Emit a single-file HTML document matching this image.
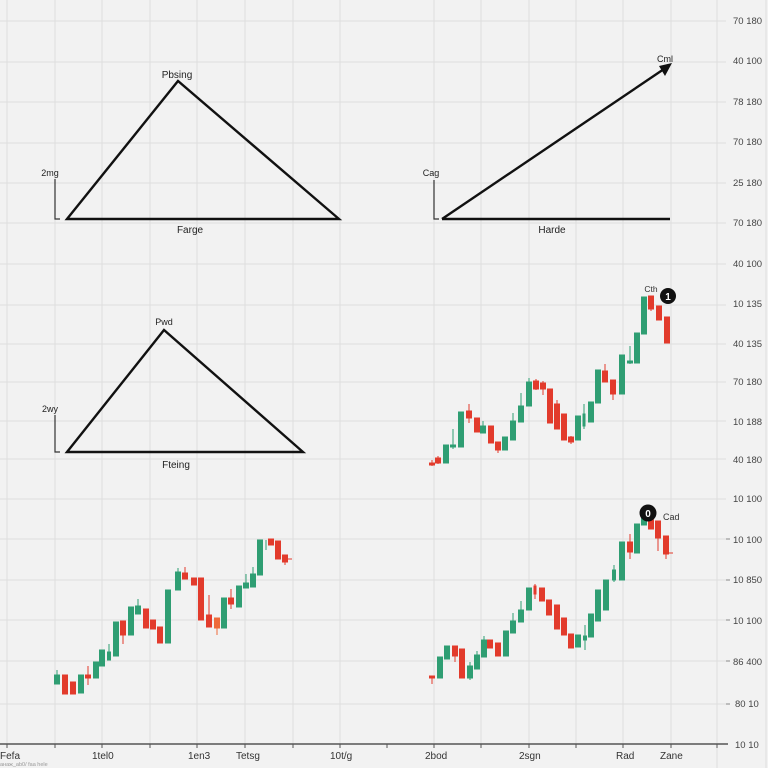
<!DOCTYPE html>
<html><head><meta charset="utf-8"><style>
html,body{margin:0;padding:0;background:#f2f2f2;}
svg{display:block;}
text{font-family:"Liberation Sans",sans-serif;}
</style></head><body>
<svg width="768" height="768" viewBox="0 0 768 768" xmlns="http://www.w3.org/2000/svg">
<rect width="768" height="768" fill="#f2f2f2"/>
<g stroke="#dedede" stroke-width="1">
<line x1="7" y1="0" x2="7" y2="744"/><line x1="55" y1="0" x2="55" y2="744"/><line x1="102" y1="0" x2="102" y2="744"/><line x1="150" y1="0" x2="150" y2="744"/><line x1="197" y1="0" x2="197" y2="744"/><line x1="245" y1="0" x2="245" y2="744"/><line x1="293" y1="0" x2="293" y2="744"/><line x1="340" y1="0" x2="340" y2="744"/><line x1="434" y1="0" x2="434" y2="744"/><line x1="481" y1="0" x2="481" y2="744"/><line x1="529" y1="0" x2="529" y2="744"/><line x1="576" y1="0" x2="576" y2="744"/><line x1="623" y1="0" x2="623" y2="744"/><line x1="671" y1="0" x2="671" y2="744"/><line x1="717" y1="0" x2="717" y2="768"/><line x1="766" y1="0" x2="766" y2="768"/>
<line x1="0" y1="21" x2="726" y2="21"/><line x1="0" y1="62" x2="726" y2="62"/><line x1="0" y1="102" x2="726" y2="102"/><line x1="0" y1="143" x2="726" y2="143"/><line x1="0" y1="183" x2="726" y2="183"/><line x1="0" y1="223" x2="726" y2="223"/><line x1="0" y1="264" x2="726" y2="264"/><line x1="0" y1="305" x2="726" y2="305"/><line x1="0" y1="344" x2="726" y2="344"/><line x1="0" y1="382" x2="726" y2="382"/><line x1="0" y1="421" x2="726" y2="421"/><line x1="0" y1="459" x2="726" y2="459"/><line x1="0" y1="499" x2="726" y2="499"/><line x1="0" y1="539" x2="726" y2="539"/><line x1="0" y1="580" x2="726" y2="580"/><line x1="0" y1="620" x2="726" y2="620"/><line x1="0" y1="661" x2="726" y2="661"/><line x1="0" y1="704" x2="726" y2="704"/>
</g>
<!-- right axis ticks -->
<g stroke="#888" stroke-width="1">
<line x1="726" y1="539" x2="730" y2="539"/><line x1="726" y1="580" x2="730" y2="580"/><line x1="726" y1="620" x2="730" y2="620"/><line x1="726" y1="661" x2="730" y2="661"/><line x1="726" y1="704" x2="730" y2="704"/>
</g>
<g font-size="9.5" fill="#444">
<text x="733" y="24">70 180</text><text x="733" y="64">40 100</text><text x="733" y="105">78 180</text><text x="733" y="145">70 180</text><text x="733" y="186">25 180</text><text x="733" y="226">70 180</text><text x="733" y="267">40 100</text><text x="733" y="307">10 135</text><text x="733" y="347">40 135</text><text x="733" y="385">70 180</text><text x="733" y="425">10 188</text><text x="733" y="463">40 180</text><text x="733" y="502">10 100</text><text x="733" y="543">10 100</text><text x="733" y="583">10 850</text><text x="733" y="624">10 100</text><text x="733" y="665">86 400</text><text x="735" y="707">80 10</text><text x="735" y="748">10 10</text>
</g>
<!-- bottom axis -->
<line x1="0" y1="744" x2="728" y2="744" stroke="#555" stroke-width="1.6"/>
<g stroke="#555" stroke-width="1">
<line x1="7" y1="744" x2="7" y2="748"/><line x1="55" y1="744" x2="55" y2="748"/><line x1="102" y1="744" x2="102" y2="748"/><line x1="150" y1="744" x2="150" y2="748"/><line x1="197" y1="744" x2="197" y2="748"/><line x1="245" y1="744" x2="245" y2="748"/><line x1="293" y1="744" x2="293" y2="748"/><line x1="340" y1="744" x2="340" y2="748"/><line x1="387" y1="744" x2="387" y2="748"/><line x1="434" y1="744" x2="434" y2="748"/><line x1="481" y1="744" x2="481" y2="748"/><line x1="529" y1="744" x2="529" y2="748"/><line x1="576" y1="744" x2="576" y2="748"/><line x1="623" y1="744" x2="623" y2="748"/><line x1="671" y1="744" x2="671" y2="748"/><line x1="717" y1="744" x2="717" y2="748"/>
</g>
<g font-size="10" fill="#333">
<text x="0" y="759">Fefa</text><text x="92" y="759">1tel0</text><text x="188" y="759">1en3</text><text x="236" y="759">Tetsg</text><text x="330" y="759">10t/g</text><text x="425" y="759">2bod</text><text x="519" y="759">2sgn</text><text x="616" y="759">Rad</text><text x="660" y="759">Zane</text>
</g>
<text x="0" y="766" font-size="5.5" fill="#999">анаж_ab0/ faa hele</text>

<!-- top-left triangle -->
<polygon points="67,219 178,81 339,219" fill="none" stroke="#111" stroke-width="2.4" stroke-linejoin="miter"/>
<polyline points="55,179 55,219 60,219" fill="none" stroke="#333" stroke-width="1.2"/>
<g font-size="10" fill="#222">
<text x="177" y="78" text-anchor="middle">Pbsing</text>
<text x="190" y="233" text-anchor="middle">Farge</text>
<text x="50" y="176" text-anchor="middle" font-size="9">2mg</text>
</g>
<!-- top-right arrow -->
<line x1="442" y1="219" x2="670" y2="219" stroke="#111" stroke-width="2.4"/>
<line x1="442" y1="219" x2="664" y2="69" stroke="#111" stroke-width="2.4"/>
<polygon points="672,63 659,66 665,76" fill="#111"/>
<polyline points="434,180 434,219 439,219" fill="none" stroke="#333" stroke-width="1.2"/>
<g font-size="10" fill="#222">
<text x="665" y="62" text-anchor="middle" font-size="9">Cml</text>
<text x="552" y="233" text-anchor="middle">Harde</text>
<text x="431" y="176" text-anchor="middle" font-size="9">Cag</text>
</g>
<!-- middle-left triangle -->
<polygon points="67,452 164,330 303,452" fill="none" stroke="#111" stroke-width="2.4"/>
<polyline points="55,415 55,452 60,452" fill="none" stroke="#333" stroke-width="1.2"/>
<g font-size="10" fill="#222">
<text x="164" y="325" text-anchor="middle" font-size="9">Pwd</text>
<text x="176" y="468" text-anchor="middle">Fteing</text>
<text x="50" y="412" text-anchor="middle" font-size="9">2wy</text>
</g>

<!-- candles: middle-right -->
<g stroke-width="1">
<g fill="#e23b2c" stroke="#e23b2c">
<line x1="432" y1="460" x2="432" y2="466"/><rect x="429.5" y="463" width="5" height="2"/>
<line x1="438" y1="456" x2="438" y2="464"/><rect x="435.5" y="458" width="5" height="5"/>
<line x1="469" y1="404" x2="469" y2="423"/><rect x="466.5" y="411" width="5" height="7"/>
<rect x="474.5" y="418" width="5" height="14"/>
<rect x="488.5" y="426" width="5" height="17"/>
<line x1="498" y1="442" x2="498" y2="453"/><rect x="495.5" y="442" width="5" height="8"/>
<line x1="536" y1="379" x2="536" y2="390"/><rect x="533.5" y="381" width="5" height="8"/>
<line x1="543" y1="381" x2="543" y2="395"/><rect x="540.5" y="383" width="5" height="6"/>
<rect x="547.5" y="389" width="5" height="34"/>
<line x1="557" y1="400" x2="557" y2="429"/><rect x="554.5" y="404" width="5" height="25"/>
<rect x="561.5" y="414" width="5" height="26"/>
<line x1="571" y1="436" x2="571" y2="444"/><rect x="568.5" y="437" width="5" height="5"/>
<line x1="605" y1="364" x2="605" y2="382"/><rect x="602.5" y="371" width="5" height="11"/>
<line x1="613" y1="380" x2="613" y2="400"/><rect x="610.5" y="380" width="5" height="14"/>
<line x1="651" y1="296" x2="651" y2="311"/><rect x="648.5" y="296" width="5" height="13"/>
<rect x="656.5" y="306" width="5" height="14"/>
<rect x="664.5" y="317" width="5" height="26"/>
</g>
<g fill="#2f9e73" stroke="#2f9e73">
<rect x="443.5" y="445" width="5" height="18"/>
<line x1="453" y1="429" x2="453" y2="449"/><rect x="450.5" y="445" width="5" height="2"/>
<rect x="458.5" y="412" width="5" height="35"/>
<line x1="483" y1="421" x2="483" y2="433"/><rect x="480.5" y="426" width="5" height="7"/>
<rect x="502.5" y="437" width="5" height="13"/>
<line x1="513" y1="413" x2="513" y2="440"/><rect x="510.5" y="421" width="5" height="19"/>
<line x1="521" y1="393" x2="521" y2="422"/><rect x="518.5" y="406" width="5" height="16"/>
<line x1="529" y1="378" x2="529" y2="406"/><rect x="526.5" y="382" width="5" height="24"/>
<rect x="575.5" y="416" width="5" height="24"/>
<line x1="584" y1="404" x2="584" y2="429"/><rect x="583" y="414" width="2" height="12"/>
<rect x="588.5" y="402" width="5" height="20"/>
<rect x="595.5" y="370" width="5" height="33"/>
<rect x="619.5" y="355" width="5" height="39"/>
<line x1="630" y1="346" x2="630" y2="364"/><rect x="627.5" y="361" width="5" height="2"/>
<rect x="634.5" y="333" width="5" height="30"/>
<rect x="641.5" y="297" width="5" height="37"/>
</g>
</g>
<circle cx="668" cy="296" r="8" fill="#111"/>
<text x="668" y="300" font-size="10" fill="#fff" text-anchor="middle" font-weight="bold">1</text>
<text x="651" y="292" font-size="8.5" fill="#333" text-anchor="middle">Cth</text>

<!-- candles: bottom-left -->
<g stroke-width="1">
<g fill="#e23b2c" stroke="#e23b2c">
<rect x="62.5" y="675" width="5" height="19"/>
<rect x="70.5" y="682" width="5" height="12"/>
<line x1="88" y1="666" x2="88" y2="685"/><rect x="85.5" y="675" width="5" height="3"/>
<line x1="123" y1="621" x2="123" y2="644"/><rect x="120.5" y="621" width="5" height="14"/>
<rect x="143.5" y="609" width="5" height="19"/>
<rect x="150.5" y="620" width="5" height="9"/>
<rect x="157.5" y="627" width="5" height="16"/>
<line x1="185" y1="567" x2="185" y2="579"/><rect x="182.5" y="573" width="5" height="6"/>
<rect x="191.5" y="578" width="5" height="7"/>
<rect x="198.5" y="578" width="5" height="42"/>
<line x1="209" y1="595" x2="209" y2="627"/><rect x="206.5" y="615" width="5" height="12"/>
<line x1="231" y1="589" x2="231" y2="609"/><rect x="228.5" y="598" width="5" height="6"/>
<rect x="268.5" y="539" width="5" height="6"/>
<rect x="275.5" y="541" width="5" height="18"/>
<line x1="285" y1="555" x2="285" y2="565"/><rect x="282.5" y="555" width="5" height="7"/>
<line x1="287" y1="559" x2="292" y2="559"/>
</g>
<g fill="#ee6a3a" stroke="#ee6a3a">
<line x1="217" y1="618" x2="217" y2="635"/><rect x="214.5" y="618" width="5" height="10"/>
</g>
<g fill="#2f9e73" stroke="#2f9e73">
<line x1="57" y1="670" x2="57" y2="684"/><rect x="54.5" y="675" width="5" height="9"/>
<rect x="78.5" y="675" width="5" height="18"/>
<rect x="93.5" y="662" width="5" height="16"/>
<rect x="99.5" y="650" width="5" height="16"/>
<line x1="109" y1="644" x2="109" y2="660"/><rect x="107.5" y="652" width="3" height="8"/>
<rect x="113.5" y="622" width="5" height="34"/>
<rect x="128.5" y="607" width="5" height="28"/>
<line x1="138" y1="599" x2="138" y2="614"/><rect x="135.5" y="606" width="5" height="8"/>
<rect x="165.5" y="590" width="5" height="53"/>
<line x1="178" y1="568" x2="178" y2="590"/><rect x="175.5" y="572" width="5" height="18"/>
<rect x="221.5" y="598" width="5" height="30"/>
<rect x="236.5" y="586" width="5" height="21"/>
<line x1="246" y1="574" x2="246" y2="588"/><rect x="243.5" y="583" width="5" height="5"/>
<line x1="253" y1="567" x2="253" y2="587"/><rect x="250.5" y="574" width="5" height="13"/>
<rect x="257.5" y="540" width="5" height="35"/>
<line x1="266" y1="540" x2="266" y2="550"/>
</g>
</g>

<!-- candles: bottom-right -->
<g stroke-width="1">
<g fill="#e23b2c" stroke="#e23b2c">
<line x1="432" y1="676" x2="432" y2="684"/><rect x="429.5" y="676" width="5" height="2"/>
<line x1="455" y1="646" x2="455" y2="662"/><rect x="452.5" y="646" width="5" height="10"/>
<rect x="459.5" y="649" width="5" height="29"/>
<rect x="487.5" y="640" width="5" height="8"/>
<rect x="495.5" y="643" width="5" height="13"/>
<line x1="535" y1="584" x2="535" y2="599"/><rect x="534" y="586" width="2" height="8"/>
<rect x="539.5" y="588" width="5" height="13"/>
<rect x="546.5" y="600" width="5" height="15"/>
<rect x="554.5" y="605" width="5" height="24"/>
<rect x="561.5" y="618" width="5" height="17"/>
<rect x="568.5" y="634" width="5" height="14"/>
<line x1="630" y1="534" x2="630" y2="559"/><rect x="627.5" y="542" width="5" height="10"/>
<rect x="648.5" y="520" width="5" height="9"/>
<line x1="658" y1="521" x2="658" y2="551"/><rect x="655.5" y="521" width="5" height="17"/>
<line x1="666" y1="536" x2="666" y2="559"/><rect x="663.5" y="536" width="5" height="18"/>
<line x1="668" y1="553" x2="673" y2="553"/>
</g>
<g fill="#2f9e73" stroke="#2f9e73">
<rect x="437.5" y="657" width="5" height="21"/>
<rect x="444.5" y="646" width="5" height="13"/>
<line x1="470" y1="662" x2="470" y2="680"/><rect x="467.5" y="666" width="5" height="12"/>
<line x1="477" y1="651" x2="477" y2="669"/><rect x="474.5" y="655" width="5" height="14"/>
<line x1="484" y1="636" x2="484" y2="657"/><rect x="481.5" y="640" width="5" height="17"/>
<rect x="503.5" y="631" width="5" height="25"/>
<line x1="513" y1="613" x2="513" y2="633"/><rect x="510.5" y="621" width="5" height="12"/>
<line x1="521" y1="601" x2="521" y2="622"/><rect x="518.5" y="610" width="5" height="12"/>
<rect x="526.5" y="588" width="5" height="22"/>
<rect x="575.5" y="635" width="5" height="12"/>
<line x1="585" y1="625" x2="585" y2="650"/><rect x="583.5" y="636" width="3" height="4"/>
<rect x="588.5" y="614" width="5" height="23"/>
<rect x="595.5" y="590" width="5" height="31"/>
<rect x="603.5" y="580" width="5" height="30"/>
<line x1="614" y1="565" x2="614" y2="582"/><rect x="612.5" y="570" width="3" height="10"/>
<rect x="619.5" y="542" width="5" height="38"/>
<rect x="634.5" y="524" width="5" height="29"/>
<rect x="641.5" y="517" width="5" height="8"/>
</g>
</g>
<circle cx="648" cy="513" r="8.5" fill="#111"/>
<text x="648" y="517" font-size="10" fill="#fff" text-anchor="middle" font-weight="bold">0</text>
<text x="663" y="520" font-size="9" fill="#333">Cad</text>
</svg>
</body></html>
